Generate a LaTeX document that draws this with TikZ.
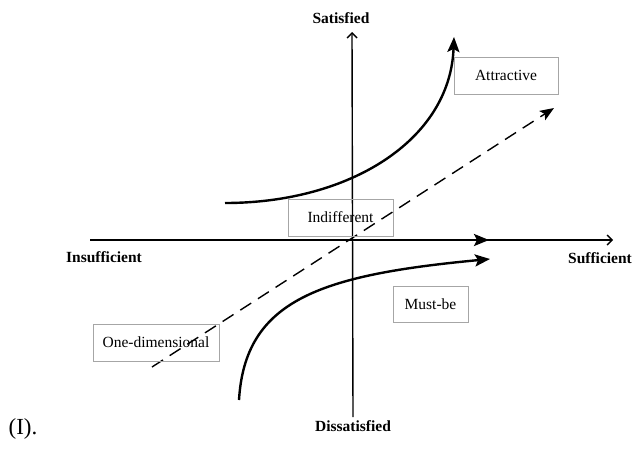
\documentclass[tikz,border=0pt]{standalone}
\usepackage{fontspec}
\setmainfont{Liberation Serif}
\usetikzlibrary{arrows.meta}
\tikzset{
  quadbox/.style={draw=gray!70,line width=0.9pt,inner sep=0pt,minimum height=37pt,font=\fontsize{15.5}{18}\selectfont},
  axislabel/.style={font=\fontsize{15.5}{18}\selectfont\bfseries},
  axisline/.style={line width=1.4pt,-{Straight Barb[length=5pt,width=10pt,line width=1.4pt]}},
  curveline/.style={line width=2.4pt,-{Stealth[length=15pt,width=12pt,inset=3pt]}}
}
\begin{document}
\begin{tikzpicture}[x=1pt,y=-1pt]
  \useasboundingbox (0,0) rectangle (637,448);
  % axes
  \coordinate (W) at (90,240);
  \coordinate (E) at (613,240);
  \coordinate (S) at (353,417);
  \coordinate (N) at (352,32);
  \draw[axisline] (W) -- (E);
  \draw[axisline] (S) -- (N);
  \node[axislabel] (sat) at (341,18) {Satisfied};
  \node[axislabel] (dis) at (353,426) {Dissatisfied};
  \node[axislabel] (ins) at (104,257) {Insufficient};
  \node[axislabel] (suf) at (600,258) {Sufficient};
  % curves
  \coordinate (att0) at (225,203);
  \coordinate (att1) at (454,37);
  \coordinate (ind0) at (228,240);
  \coordinate (ind1) at (489,240);
  \coordinate (mb0) at (239,400);
  \coordinate (mb1) at (490,259);
  \coordinate (od0) at (152,367);
  \coordinate (od1) at (554,108);
  \draw[curveline] (att0) .. controls (350,203) and (450,140) .. (att1);
  \draw[curveline] (ind0) -- (ind1);
  \draw[curveline] (mb0) .. controls (245,300) and (320,275) .. (mb1);
  \draw[line width=1.4pt,dash pattern=on 13pt off 8pt,-{Stealth[length=14pt,width=11pt,inset=3pt]}] (od0) -- (od1);
  % labels
  \node[quadbox,minimum width=104pt] (attr) at (506,75.5) {Attractive};
  \node[quadbox,minimum width=105pt] (indiff) at (340.5,217.5) {Indifferent};
  \node[quadbox,minimum width=75pt,minimum height=36pt] (mustbe) at (430.5,304) {Must-be};
  \node[quadbox,minimum width=126pt] (onedim) at (156,342.5) {One-dimensional};
  \node[font=\fontsize{23}{26}\selectfont] (cap) at (23,429) {(I).};
\end{tikzpicture}
\end{document}
